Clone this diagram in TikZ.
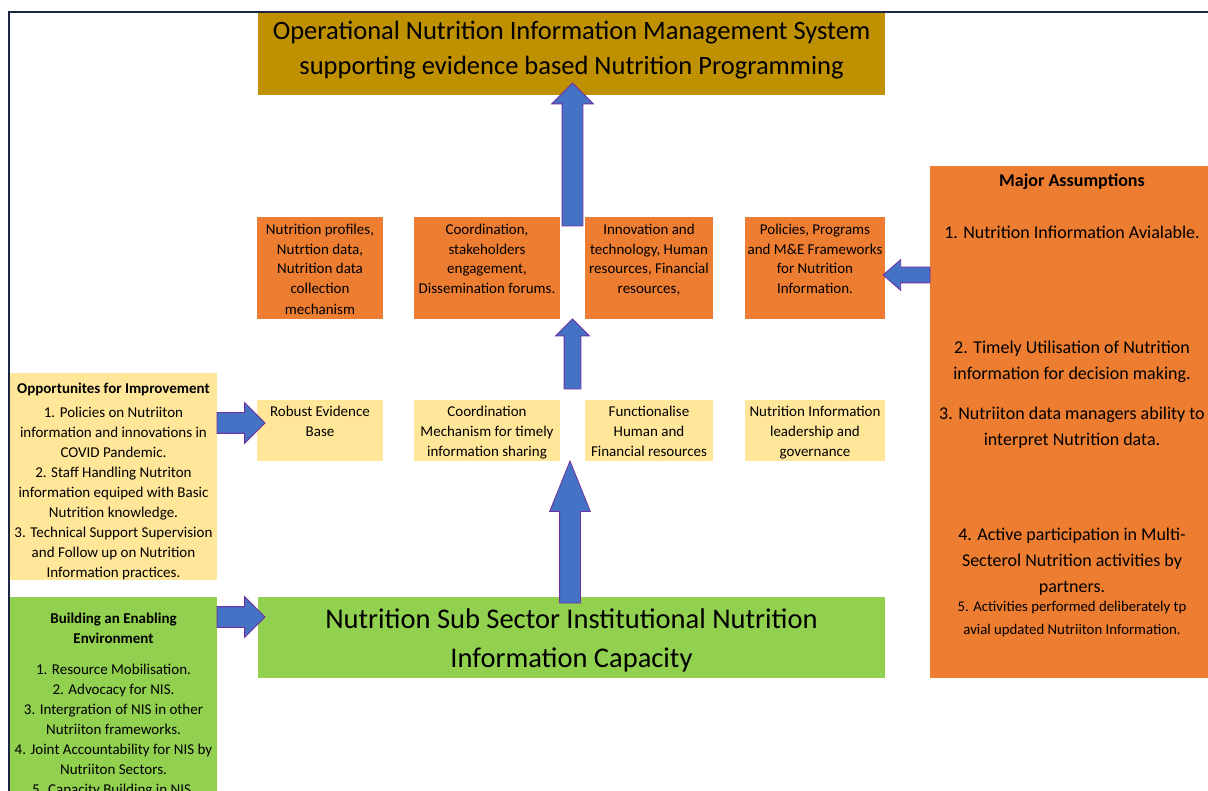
\documentclass[tikz,border=0pt]{standalone}
\usepackage{fontspec}
\setmainfont{Carlito}
\usetikzlibrary{matrix,calc,shapes.arrows}
\definecolor{gold}{RGB}{191,144,0}
\definecolor{orng}{RGB}{237,125,49}
\definecolor{lyellow}{RGB}{255,230,153}
\definecolor{lgreen}{RGB}{146,208,80}
\definecolor{arrowfill}{RGB}{68,114,196}
\definecolor{arrowedge}{RGB}{112,48,160}
\definecolor{framecol}{RGB}{28,38,66}
\newcommand{\cell}[4]{\parbox[c][#2][t]{#1}{\centering\rule{0pt}{#3}#4}}
\newcommand{\fatarrow}[3][]{\path let \p1=($(#3)-(#2)$), \n1={veclen(\x1,\y1)}, \n2={atan2(\y1,\x1)} in
  (#2) node[blockarrow,minimum height=\n1,rotate=\n2,anchor=tail,#1] {};}

\begin{document}
\begin{tikzpicture}[x=1pt,y=-1pt,
    box/.style={inner sep=0pt,outer sep=0pt},
    blockarrow/.style={single arrow,draw=arrowedge,fill=arrowfill,line width=0.8pt,
      inner xsep=0pt,inner ysep=10pt,outer sep=0pt,minimum width=0pt,
      single arrow head extend=10pt,single arrow tip angle=90},
    frameline/.style={draw=framecol,line width=2pt}]
\useasboundingbox (0,0) rectangle (1208,791);
\clip (0,0) rectangle (1208,791);

\node[box,fill=gold,font=\fontsize{26.5}{35}\selectfont] (title) at (571.5,53.5)
  {\cell{627pt}{83pt}{28pt}{Operational Nutrition Information Management System\\ supporting evidence based Nutrition Programming}};

\matrix (grid) [matrix of nodes, anchor=north west, inner sep=0pt, outer sep=0pt,
    row sep=81pt, column sep=25pt,
    nodes={box,font=\fontsize{15}{20}\selectfont},
    row 1/.style={nodes={fill=orng}}, row 2/.style={nodes={fill=lyellow}}] at (257,217)
{
  \cell{126pt}{102pt}{17pt}{Nutrition profiles,\\ Nutrtion data,\\ Nutrition data\\ collection\\ mechanism}
  &[6pt] \cell{146pt}{102pt}{17pt}{Coordination,\\ stakeholders\\ engagement,\\ Dissemination forums.}
  & \cell{128pt}{102pt}{17pt}{Innovation and\\ technology, Human\\ resources, Financial\\ resources,}
  &[7pt] \cell{140pt}{102pt}{17pt}{Policies, Programs\\ and M\&E Frameworks\\ for Nutrition\\ Information.} \\
  \cell{126pt}{61pt}{16.5pt}{Robust Evidence\\ Base}
  &[6pt] \cell{146pt}{61pt}{16.5pt}{Coordination\\ Mechanism for timely\\ information sharing}
  & \cell{128pt}{61pt}{16.5pt}{Functionalise\\ Human and\\ Financial resources}
  &[7pt] \cell{140pt}{61pt}{16.5pt}{Nutrition Information\\ leadership and\\ governance} \\
};

\node[box,fill=lgreen,font=\fontsize{28.5}{39}\selectfont] (capacity) at (571.5,637.5)
  {\cell{627pt}{81pt}{31pt}{Nutrition Sub Sector Institutional Nutrition\\ Information Capacity}};

\node[box,fill=lyellow,font=\fontsize{15}{20}\selectfont] (opp) at (113.5,476.5)
  {\cell{207pt}{207pt}{20.5pt}{\textbf{Opportunites for Improvement}\\[4pt]
   1. Policies on Nutriiton\\ information and innovations in\\ COVID Pandemic.\\
   2. Staff Handling Nutriton\\ information equiped with Basic\\ Nutrition knowledge.\\
   3. Technical Support Supervision\\ and Follow up on Nutrition\\ Information practices.}};

\node[box,fill=lgreen,font=\fontsize{15}{20}\selectfont] (build) at (113.5,698.5)
  {\cell{207pt}{203pt}{26.5pt}{\textbf{Building an Enabling}\\ \textbf{Environment}\\[11pt]
   1. Resource Mobilisation.\\ 2. Advocacy for NIS.\\ 3. Intergration of NIS in other\\
   Nutriiton frameworks.\\ 4. Joint Accountability for NIS by\\ Nutriiton Sectors.\\
   5. Capacity Building in NIS.}};

\node[box,fill=orng,font=\fontsize{18}{26}\selectfont] (assump) at (1072,422)
  {\cell{284pt}{512pt}{20.5pt}{\textbf{Major Assumptions}\\[26pt]
   1. Nutrition Infiormation Avialable.\\[89pt]
   2. Timely Utilisation of Nutrition\\ information for decision making.\\[14pt]
   3. Nutriiton data managers ability to\\ interpret Nutrition data.\\[69pt]
   4. Active participation in Multi-\\ Secterol Nutrition activities by\\ partners.\\[-4pt]
   {\fontsize{14.8}{23}\selectfont 5. Activities performed deliberately tp\\[-3pt]
   avial updated Nutriiton Information.}}};

% arrow ends
\coordinate (topfoot) at ($(grid-1-2.north east)!0.5!(grid-1-3.north west)+(0,9)$);
\coordinate (toptip) at ($(title.south -| topfoot)+(0,-12)$);
\coordinate (midfoot) at ($(grid-2-2.north east)!0.5!(grid-2-3.north west)+(0,-11)$);
\coordinate (midtip) at (grid-1-2.south east -| midfoot);
\coordinate (botfoot) at ($(capacity.north)+(-1.5,6)$);
\coordinate (bottip) at (grid-2-2.south -| botfoot);
\coordinate (oppout) at ($(opp.north east)+(0,50)$);
\coordinate (oppin) at ($(oppout -| grid-2-1.west)+(8,0)$);
\coordinate (buildout) at ($(build.north east)+(0,20)$);
\coordinate (buildin) at ($(buildout -| capacity.west)+(7,0)$);
\coordinate (assout) at ($(assump.west |- grid-1-4.center)+(0,7)$);
\coordinate (assin) at ($(assout -| grid-1-4.east)+(-2,0)$);

\fatarrow[single arrow head extend=10.5pt]{topfoot}{toptip}
\fatarrow[inner ysep=8pt,single arrow head extend=8.5pt]{midfoot}{midtip}
\fatarrow[single arrow tip angle=44]{botfoot}{bottip}
\fatarrow{oppout}{oppin}
\fatarrow{buildout}{buildin}
\fatarrow[inner ysep=7.5pt,single arrow head extend=7.5pt,single arrow tip angle=82]{assout}{assin}

\draw[frameline] (9,791) -- (9,12) -- (1208,12);
\end{tikzpicture}
\end{document}
